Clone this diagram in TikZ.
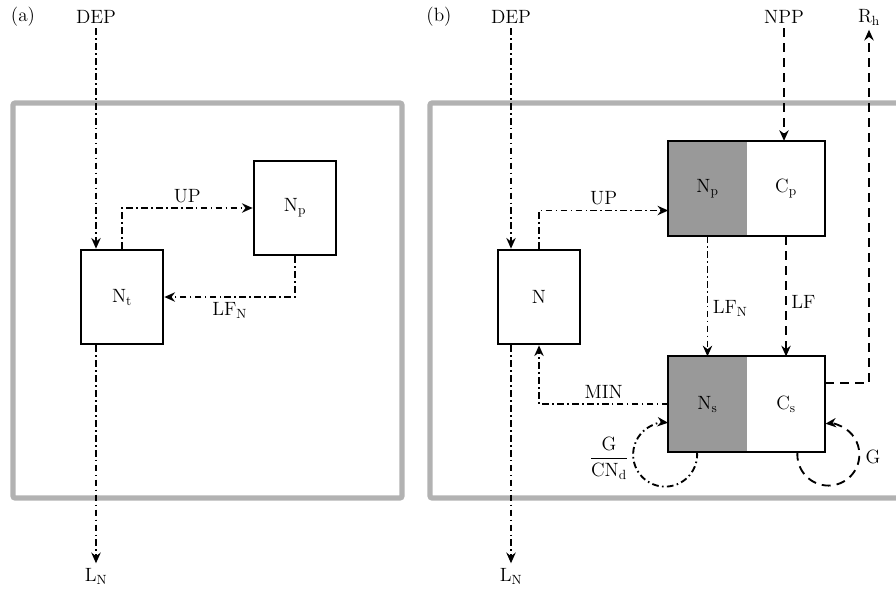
\documentclass[tikz,border=0pt]{standalone}
\usepackage{amsmath,amssymb}
\usepackage{tikz}
\usetikzlibrary{positioning,arrows.meta,calc}
\usepackage{xcolor}
\tikzset{
  >={Stealth[length=8pt,width=7pt]},
}

\begin{document}
\begin{tikzpicture}[
x=0.75pt, y=0.75pt,
font=\fontsize{14.4}{17}\selectfont,
pool/.style={draw, line width=1.5pt, minimum width=62pt, minimum height=71pt},
half/.style={minimum width=58.5pt, minimum height=71pt, inner sep=0pt},
nflow/.style={->, line width=1.4pt, dash pattern=on 5pt off 2.5pt on 1.2pt off 2.5pt},
cflow/.style={->, line width=1.4pt, dash pattern=on 6.75pt off 4.5pt},
frame/.style={draw=gray!60, line width=3.8pt, rounded corners=1.5pt}
]
\clip (0,0) rectangle (896,-590);

% system boundaries
\draw[frame] (13,-103) rectangle (402,-498);
\draw[frame] (430,-103) rectangle (930,-498);

% (a)
\node (la) at (23,-17) {(a)};
\node (depa) at (96,-17) {DEP};
\node[pool] (nt) at (122,-297) {$\mathrm{N_t}$};
\node[pool] (npa) at (295,-208) {$\mathrm{N_p}$};
\node (lna) at (96,-576) {$\mathrm{L_N}$};

\draw[nflow] (depa) -- (depa |- nt.north);
\draw[nflow] (nt.north) |- node[above, pos=0.75] {UP} (npa.west);
\draw[nflow] (npa.south) |- node[below, pos=0.75] {$\mathrm{LF_N}$} (nt.east);
\draw[nflow] (nt.south -| depa) -- (lna);

% (b)
\node (lb) at (439,-17) {(b)};
\node (depb) at (511,-17) {DEP};
\node (npp) at (784,-17) {NPP};
\node (rh) at (869,-17) {$\mathrm{R_h}$};
\node[pool] (n) at (539,-297) {$\mathrm{N}$};
\node[half, fill=black!40] (np) at (707.5,-188.5) {$\mathrm{N_p}$};
\node[half, right=0pt of np] (cp) {$\mathrm{C_p}$};
\node[half, fill=black!40] (ns) at (707.5,-404) {$\mathrm{N_s}$};
\node[half, right=0pt of ns] (cs) {$\mathrm{C_s}$};
\node (lnb) at (511,-576) {$\mathrm{L_N}$};
\node (gcn) at (609,-458) {$\dfrac{\mathrm{G}}{\mathrm{CN_d}}$};
\node (g) at (873,-457) {G};
\draw[line width=1.5pt] (np.north west) rectangle (cp.south east);
\draw[line width=1.5pt] (ns.north west) rectangle (cs.south east);

\draw[nflow] (depb) -- (depb |- n.north);
\draw[nflow] (n.north) |- node[above, pos=0.75] {UP} ([yshift=-16.5pt]np.west);
\draw[nflow] (np.south) -- node[right, pos=0.6] {$\mathrm{LF_N}$} (ns.north);
\draw[cflow] (cp.south) -- node[right, pos=0.55] {LF} (cs.north);
\draw[cflow] (npp) -- (npp |- cp.north);
\draw[cflow] ([yshift=15.75pt]cs.east) -| (rh);
\draw[nflow] (ns.west) -| node[above, pos=0.25] {MIN} (n.south);
\draw[nflow] (n.south -| depb) -- (lnb);
\draw[nflow] ([xshift=-7.9pt]ns.south) arc[start angle=5.4, end angle=-275.4, radius=24pt];
\draw[cflow] ([xshift=8.6pt]cs.south) arc[start angle=174.5, end angle=455.5, radius=23.25pt];
\end{tikzpicture}
\end{document}
